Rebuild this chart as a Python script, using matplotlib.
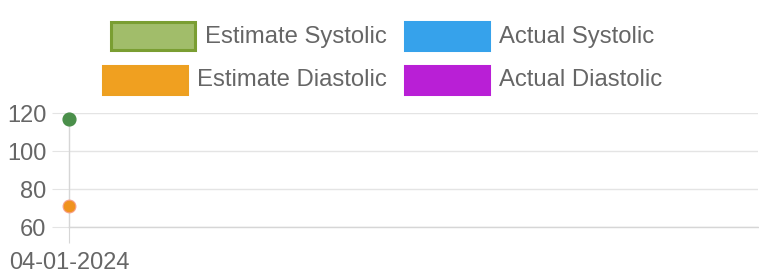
import matplotlib
matplotlib.use("Agg")
import matplotlib.pyplot as plt
from matplotlib.patches import Rectangle

# ---- data ----
dates = ["04-01-2024"]
estimate_systolic = [117]
estimate_diastolic = [71]
actual_systolic = []
actual_diastolic = []
y_ticks = [60, 80, 100, 120]
legend_labels = ["Estimate Systolic", "Actual Systolic", "Estimate Diastolic", "Actual Diastolic"]

W, H = 759, 269
fig = plt.figure(figsize=(W / 100, H / 100), dpi=100)
plt.rcParams['font.family'] = ['Liberation Sans', 'DejaVu Sans']

def fx(px):
    return px / W

def fy(py):
    return 1 - py / H

left, right, top, bottom = 69, 758, 113.3, 227.3
ax = fig.add_axes([fx(left), fy(bottom), fx(right - left), (bottom - top) / H])

grid_c = "#e4e4e4"
axis_c = "#d6d6d6"
txt_c = "#666666"
fs = 17.0
lfs = 17.2

xs = list(range(len(dates)))
ax.plot(xs, estimate_systolic, 'o', color="#4a8f4a", markersize=9.2, markeredgecolor="#4a8f4a",
        clip_on=False, zorder=5)
ax.plot(xs, estimate_diastolic, 'o', color="#f0921e", markersize=9.2, markeredgecolor="#f7a08a",
        markeredgewidth=0.8, clip_on=False, zorder=5)

ax.set_xlim(0, 1)
ax.set_ylim(60, 120)
ax.set_yticks(y_ticks)
ax.set_yticklabels([str(v) for v in y_ticks])
ax.set_xticks(xs)
ax.set_xticklabels(dates)

for s in ["top", "right"]:
    ax.spines[s].set_visible(False)
ax.spines["left"].set_color(axis_c)
ax.spines["bottom"].set_color(axis_c)
ax.spines["left"].set_linewidth(1)
ax.spines["bottom"].set_linewidth(1)

ax.grid(axis='y', color=grid_c, linewidth=1)
ax.set_axisbelow(True)
ax.tick_params(axis='y', length=12.2, color=grid_c, pad=4.0, labelsize=fs, labelcolor=txt_c)
ax.tick_params(axis='x', length=11.5, color=axis_c, pad=6, labelsize=fs, labelcolor=txt_c)

# ---- legend (Chart.js style, centered rows) ----
box_w, box_h = 84, 28
fills = ["#a1bd6a", "#36a2eb", "#f0a020", "#b91fd6"]
edges = ["#7a9e32", "#36a2eb", "#eda021", "#b91fd6"]
box_x = [111, 405, 103, 405]
row_y = [22, 66]
for i, lab in enumerate(legend_labels):
    row = i // 2
    bx = box_x[i]
    by = row_y[row]
    rect = Rectangle((fx(bx), fy(by + box_h)), box_w / W, box_h / H,
                     transform=fig.transFigure, facecolor=fills[i], edgecolor=edges[i],
                     linewidth=2.2)
    fig.add_artist(rect)
    fig.text(fx(bx + box_w + 10), fy(by + box_h / 2 - 2), lab, ha='left', va='center_baseline',
             fontsize=lfs, color=txt_c)

fig.savefig("out.png", dpi=100)
